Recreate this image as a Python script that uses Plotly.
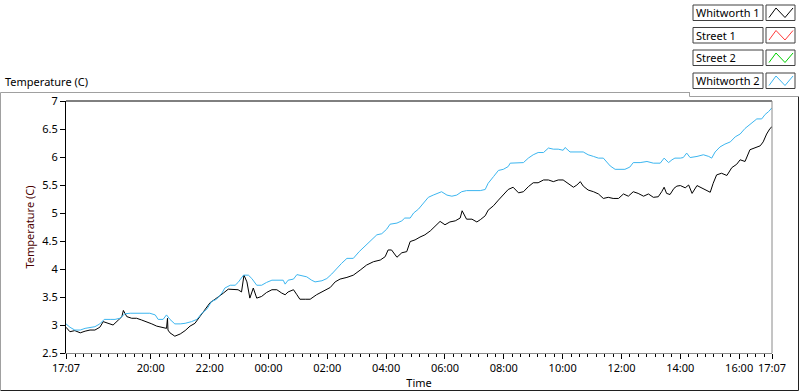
import plotly.graph_objects as go

# ---------------- data (minutes after 17:07, temperature in C) ----------------
series_names = ["Whitworth 1", "Street 1", "Street 2", "Whitworth 2"]
series_colors = ["#000000", "#ff3a3a", "#00d000", "#3cb6f0"]

w1_minutes = [0, 8, 18, 29, 39, 49, 59, 69, 76, 86, 96, 107, 114, 117, 124, 134, 144, 154, 165, 175,
              185, 195, 205, 207, 208, 212, 222, 233, 243, 253, 263, 273, 284, 294, 304, 314, 321, 331,
              341, 351, 358, 363, 369, 375, 382, 389, 399, 409, 420, 430, 440, 447, 453, 464, 471, 477,
              488, 498, 511, 525, 539, 549, 559, 573, 586, 600, 613, 627, 641, 651, 657, 664, 675, 685,
              695, 702, 712, 722, 732, 743, 753, 763, 773, 783, 794, 804, 808, 817, 828, 838, 845, 855,
              861, 872, 882, 892, 902, 912, 923, 933, 943, 953, 963, 974, 984, 994, 1004, 1014, 1025,
              1035, 1042, 1049, 1055, 1065, 1076, 1086, 1096, 1106, 1116, 1127, 1137, 1147, 1157, 1167,
              1178, 1188, 1198, 1208, 1215, 1220, 1225, 1232, 1240, 1246, 1253, 1263, 1270, 1277, 1287,
              1297, 1307, 1314, 1320, 1327, 1337, 1348, 1358, 1368, 1375, 1385, 1395, 1406, 1416, 1422,
              1429, 1436, 1440]
w1_values = [2.96, 2.88, 2.90, 2.86, 2.89, 2.91, 2.91, 2.96, 3.06, 3.03, 3.00, 3.09, 3.15, 3.26, 3.15,
             3.12, 3.12, 3.09, 3.06, 3.02, 2.98, 2.96, 2.94, 3.12, 2.91, 2.86, 2.80, 2.84, 2.90, 2.98,
             3.03, 3.15, 3.27, 3.40, 3.46, 3.52, 3.57, 3.64, 3.63, 3.63, 3.59, 3.89, 3.77, 3.48, 3.66,
             3.48, 3.51, 3.58, 3.63, 3.63, 3.57, 3.54, 3.59, 3.63, 3.54, 3.46, 3.46, 3.46, 3.54, 3.61,
             3.67, 3.77, 3.82, 3.85, 3.89, 3.98, 4.07, 4.13, 4.16, 4.22, 4.34, 4.34, 4.21, 4.29, 4.31,
             4.49, 4.52, 4.57, 4.61, 4.68, 4.76, 4.85, 4.79, 4.84, 4.86, 4.91, 5.04, 4.89, 4.89, 4.84,
             4.88, 4.95, 5.05, 5.13, 5.23, 5.32, 5.42, 5.46, 5.36, 5.38, 5.47, 5.54, 5.54, 5.59, 5.59,
             5.56, 5.59, 5.59, 5.52, 5.46, 5.50, 5.56, 5.48, 5.41, 5.38, 5.34, 5.26, 5.28, 5.26, 5.26,
             5.34, 5.30, 5.38, 5.35, 5.30, 5.34, 5.28, 5.29, 5.38, 5.46, 5.35, 5.33, 5.44, 5.48, 5.49,
             5.45, 5.50, 5.35, 5.49, 5.45, 5.41, 5.37, 5.53, 5.68, 5.71, 5.67, 5.81, 5.87, 5.95, 5.92,
             6.13, 6.17, 6.20, 6.27, 6.41, 6.51, 6.54]

w2_minutes = [0, 8, 18, 29, 39, 49, 59, 69, 78, 90, 100, 110, 120, 131, 171, 182, 188, 198, 205, 212,
              222, 233, 243, 256, 267, 277, 287, 297, 307, 318, 324, 335, 345, 351, 362, 372, 379, 389,
              399, 409, 420, 443, 447, 453, 464, 471, 481, 491, 501, 508, 522, 532, 542, 552, 562, 573,
              586, 598, 610, 620, 634, 644, 654, 661, 675, 685, 691, 702, 709, 719, 729, 739, 749, 759,
              766, 777, 787, 797, 807, 817, 845, 855, 861, 872, 882, 892, 902, 906, 919, 933, 943, 953,
              963, 974, 984, 994, 1004, 1014, 1018, 1028, 1055, 1065, 1076, 1086, 1096, 1103, 1110, 1120,
              1140, 1150, 1157, 1171, 1185, 1198, 1212, 1220, 1229, 1236, 1242, 1253, 1259, 1266, 1273,
              1287, 1300, 1311, 1317, 1324, 1334, 1344, 1355, 1365, 1375, 1385, 1395, 1409, 1419, 1426,
              1433, 1440]
w2_values = [3.02, 2.96, 2.91, 2.91, 2.94, 2.96, 2.97, 3.02, 3.10, 3.10, 3.10, 3.12, 3.20, 3.21, 3.21,
             3.18, 3.10, 3.10, 3.18, 3.10, 3.02, 3.02, 3.03, 3.06, 3.10, 3.21, 3.28, 3.42, 3.46, 3.57,
             3.66, 3.71, 3.71, 3.76, 3.89, 3.89, 3.83, 3.71, 3.71, 3.76, 3.80, 3.80, 3.73, 3.80, 3.82,
             3.90, 3.88, 3.86, 3.80, 3.77, 3.79, 3.83, 3.91, 4.01, 4.10, 4.19, 4.19, 4.31, 4.41, 4.49,
             4.61, 4.63, 4.71, 4.80, 4.82, 4.86, 4.91, 4.91, 5.00, 5.07, 5.18, 5.28, 5.32, 5.36, 5.38,
             5.32, 5.30, 5.32, 5.38, 5.40, 5.40, 5.42, 5.53, 5.65, 5.76, 5.78, 5.83, 5.89, 5.89, 5.90,
             5.98, 6.04, 6.08, 6.08, 6.16, 6.14, 6.14, 6.12, 6.17, 6.09, 6.09, 6.04, 6.01, 5.98, 5.98,
             5.90, 5.84, 5.78, 5.78, 5.82, 5.90, 5.90, 5.92, 5.89, 5.89, 5.98, 5.90, 5.95, 5.98, 5.98,
             5.99, 6.07, 5.99, 6.01, 6.04, 6.01, 5.98, 6.09, 6.18, 6.23, 6.27, 6.36, 6.41, 6.51, 6.58,
             6.68, 6.68, 6.76, 6.81, 6.88]

tick_minutes = [0, 173, 293, 413, 533, 653, 773, 893, 1013, 1133, 1253, 1373, 1440]
tick_labels = ["17:07", "20:00", "22:00", "00:00", "02:00", "04:00", "06:00", "08:00",
               "10:00", "12:00", "14:00", "16:00", "17:07"]

# ---------------- figure ----------------
W, H = 800, 392
L, R, T, B = 66, 772, 101, 353
FONT = "Noto Sans"
FS = 11


def px(x):
    return (x - L) / (R - L)


def py(y):
    return (B - y) / (B - T)


fig = go.Figure()
fig.add_trace(go.Scatter(x=w1_minutes, y=w1_values, mode="lines", name=series_names[0],
                         line=dict(color=series_colors[0], width=1)))
fig.add_trace(go.Scatter(x=[], y=[], mode="lines", name=series_names[1],
                         line=dict(color=series_colors[1], width=1)))
fig.add_trace(go.Scatter(x=[], y=[], mode="lines", name=series_names[2],
                         line=dict(color=series_colors[2], width=1)))
fig.add_trace(go.Scatter(x=w2_minutes, y=w2_values, mode="lines", name=series_names[3],
                         line=dict(color=series_colors[3], width=1)))

shapes = []
annotations = []


def hline(x0, x1, y, color):
    shapes.append(dict(type="line", xref="paper", yref="paper", x0=px(x0), x1=px(x1), y0=py(y), y1=py(y),
                       line=dict(color=color, width=1)))


def vline(x, y0, y1, color):
    shapes.append(dict(type="line", xref="paper", yref="paper", x0=px(x), x1=px(x), y0=py(y0), y1=py(y1),
                       line=dict(color=color, width=1)))


# outer panel frame
frame_gray = "#a0a0a0"
hline(0.5, 690, 92.5, frame_gray)
vline(0.5, 92.5, 390, frame_gray)
hline(0.5, 798.5, 390.5, "#202020")
vline(798.5, 96.5, 390.5, "#202020")
# legend panel edge
vline(689.5, 92.5, 96.5, frame_gray)
hline(689.5, 798.5, 96.5, frame_gray)

# plot area frame: dark top, gray right
shapes.append(dict(type="line", xref="paper", yref="paper", x0=0, x1=1, y0=1, y1=1,
                   line=dict(color="#000000", width=1)))
shapes.append(dict(type="line", xref="paper", yref="paper", x0=1, x1=1, y0=0, y1=1,
                   line=dict(color="#8a8a8a", width=1)))

# legend rows
row_tops = [5, 27.5, 50, 73]
row_h = 15.5
for name, color, top in zip(series_names, series_colors, row_tops):
    shapes.append(dict(type="rect", xref="paper", yref="paper",
                       x0=px(693), x1=px(763), y0=py(top), y1=py(top + row_h),
                       line=dict(color="#404040", width=1), fillcolor="white"))
    shapes.append(dict(type="rect", xref="paper", yref="paper",
                       x0=px(766), x1=px(795), y0=py(top), y1=py(top + row_h),
                       line=dict(color="#404040", width=1), fillcolor="white"))
    y_lo, y_hi = top + row_h - 3, top + 3
    path = "M {} {} L {} {} L {} {} L {} {}".format(
        px(769), py(y_lo), px(776), py(y_hi), px(785), py(y_lo), px(793), py(y_hi))
    shapes.append(dict(type="path", xref="paper", yref="paper", path=path,
                       line=dict(color=color, width=1)))
    annotations.append(dict(text=name, xref="paper", yref="paper", x=px(694), y=py(top + row_h / 2),
                            xanchor="left", yanchor="middle", showarrow=False,
                            font=dict(family=FONT, size=FS, color="#000000")))

# graph label
annotations.append(dict(text="Temperature (C)", xref="paper", yref="paper", x=px(3), y=py(81),
                        xanchor="left", yanchor="middle", showarrow=False,
                        font=dict(family=FONT, size=FS, color="#000000")))

fig.update_layout(
    width=W, height=H,
    margin=dict(l=L, r=W - R, t=T, b=H - B, pad=0),
    paper_bgcolor="white", plot_bgcolor="white",
    showlegend=False,
    font=dict(family=FONT, size=FS, color="#000000"),
    shapes=shapes, annotations=annotations,
    xaxis=dict(range=[0, 1440], tickmode="array", tickvals=tick_minutes, ticktext=tick_labels,
               ticks="outside", ticklen=5, tickcolor="#000000", showgrid=False, zeroline=False,
               showline=True, linecolor="#8a8a8a", linewidth=1, automargin=False,
               tickfont=dict(family=FONT, size=FS, color="#000000"),
               title=dict(text="Time", font=dict(family=FONT, size=FS, color="#000000"), standoff=4),
               minor=dict(tickmode="linear", tick0=173, dtick=120 / 7, ticks="outside", ticklen=3,
                          tickcolor="#000000", showgrid=False)),
    yaxis=dict(range=[2.5, 7], tickmode="linear", tick0=2.5, dtick=0.5,
               ticks="outside", ticklen=5, tickcolor="#000000", showgrid=False, zeroline=False,
               showline=True, linecolor="#000000", linewidth=1, automargin=False,
               tickfont=dict(family=FONT, size=FS, color="#000000"),
               title=dict(text="Temperature (C)", font=dict(family=FONT, size=FS, color="#4a0000"),
                          standoff=5)),
)

fig.write_html("out.html", config={"displayModeBar": False},
               post_script="document.body.style.margin='0px';document.body.style.padding='0px';")
